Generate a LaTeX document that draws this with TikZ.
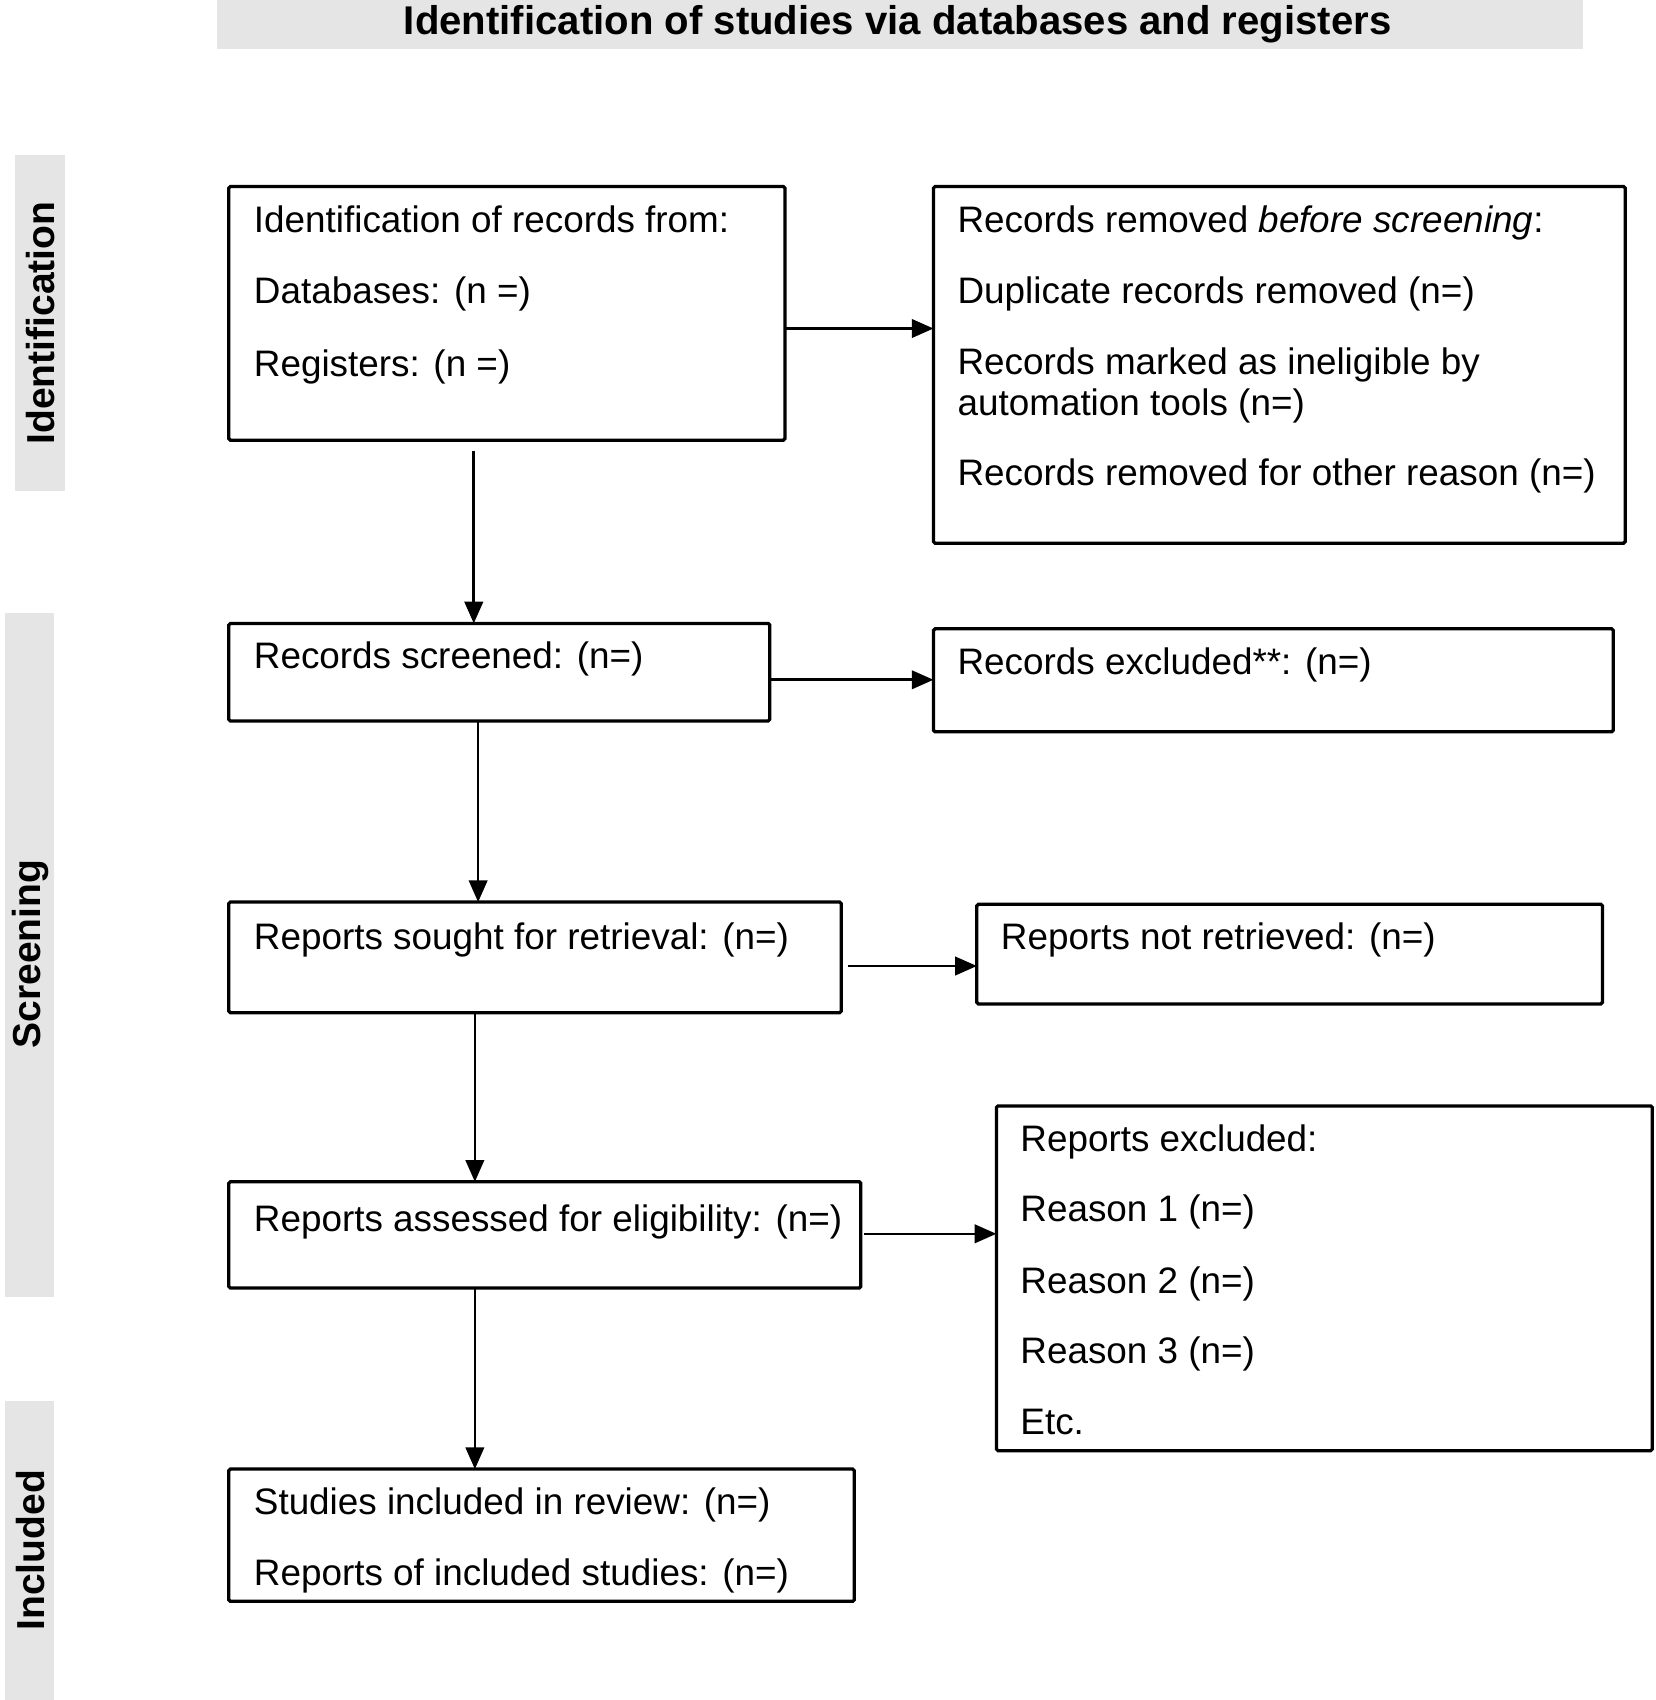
\documentclass[tikz,border=0pt]{standalone}
\usepackage{fontspec}
\setmainfont{Liberation Sans}
\usetikzlibrary{arrows.meta}
\begin{document}
\begin{tikzpicture}[x=1pt,y=-1pt,
  box/.style={draw=black, line width=3pt, inner sep=0pt, outer sep=0pt, anchor=north west, rounded corners=1.5pt},
  txt/.style={font=\fontsize{34}{40}\selectfont, inner sep=0pt, anchor=base west},
  band/.style={fill=black!10, draw=none},
  lbl/.style={font=\fontsize{36}{40}\selectfont\bfseries, rotate=90, inner sep=0pt},
  arr/.style={draw=black, line width=2.4pt, -{Triangle[length=20pt,width=17pt]}}]
\useasboundingbox (0,0) rectangle (1527,1568);
\fill[white] (0,0) rectangle (1527,1568);
% bands
\path[band] (200,0) rectangle (1460,45);
\path[band] (14,143) rectangle (60,453);
\path[band] (5,565) rectangle (50,1196);
\path[band] (5,1292) rectangle (50,1568);
\node[font=\fontsize{37}{40}\selectfont\bfseries, inner sep=0pt] (title) at (828,22) {Identification of studies via databases and registers};
\node[lbl] (lid) at (37,298) {Identification};
\node[lbl] (lsc) at (28,880) {Screening};
\node[lbl] (lin) at (28,1430) {Included};
% boxes
\node[box, minimum width=513pt, minimum height=234pt] (A) at (211,172) {};
\node[box, minimum width=638pt, minimum height=329pt] (B) at (861,172) {};
\node[box, minimum width=499pt, minimum height=90pt] (C) at (211,575) {};
\node[box, minimum width=627pt, minimum height=95pt] (D) at (861,580) {};
\node[box, minimum width=565pt, minimum height=102pt] (E) at (211,832) {};
\node[box, minimum width=577pt, minimum height=92pt] (F) at (901,834) {};
\node[box, minimum width=583pt, minimum height=98pt] (G) at (211,1090) {};
\node[box, minimum width=605pt, minimum height=318pt] (H) at (919,1020) {};
\node[box, minimum width=577pt, minimum height=122pt] (I) at (211,1355) {};
% texts
\node[txt] (a1) at (234,214) {Identification of records from:};
\node[txt] (a2) at (234,280) {Databases: (n =)};
\node[txt] (a3) at (234,347) {Registers: (n =)};
\node[txt] (b1) at (883,214) {Records removed \textit{before screening}:};
\node[txt] (b2) at (883,280) {Duplicate records removed (n=)};
\node[txt] (b3) at (883,345) {Records marked as ineligible by};
\node[txt] (b4) at (883,383) {automation tools (n=)};
\node[txt] (b5) at (883,448) {Records removed for other reason (n=)};
\node[txt] (c1) at (234,617) {Records screened: (n=)};
\node[txt] (d1) at (883,622) {Records excluded**: (n=)};
\node[txt] (e1) at (234,876) {Reports sought for retrieval: (n=)};
\node[txt] (f1) at (923,876) {Reports not retrieved: (n=)};
\node[txt] (g1) at (234,1136) {Reports assessed for eligibility: (n=)};
\node[txt] (h1) at (941,1062) {Reports excluded:};
\node[txt] (h2) at (941,1127) {Reason 1 (n=)};
\node[txt] (h3) at (941,1193) {Reason 2 (n=)};
\node[txt] (h4) at (941,1258) {Reason 3 (n=)};
\node[txt] (h5) at (941,1323) {Etc.};
\node[txt] (i1) at (234,1397) {Studies included in review: (n=)};
\node[txt] (i2) at (234,1462) {Reports of included studies: (n=)};
% connector levels
\coordinate (yab) at (0,303);
\coordinate (ycd) at (0,627);
\coordinate (yef) at (0,891);
\coordinate (ygh) at (0,1138);
\coordinate (xac) at (437,0);
\coordinate (xce) at (441,0);
\coordinate (xeg) at (438,0);
\coordinate (xgi) at (438,0);
% connectors
\draw[arr] (A.east |- yab) -- (B.west |- yab);
\draw[arr, shorten <=10pt] (A.south -| xac) -- (C.north -| xac);
\draw[arr] (C.east |- ycd) -- (D.west |- ycd);
\draw[arr] (C.south -| xce) -- (E.north -| xce);
\draw[arr, shorten <=6pt] (E.east |- yef) -- (F.west |- yef);
\draw[arr] (E.south -| xeg) -- (G.north -| xeg);
\draw[arr, shorten <=3pt] (G.east |- ygh) -- (H.west |- ygh);
\draw[arr] (G.south -| xgi) -- (I.north -| xgi);
\end{tikzpicture}
\end{document}
